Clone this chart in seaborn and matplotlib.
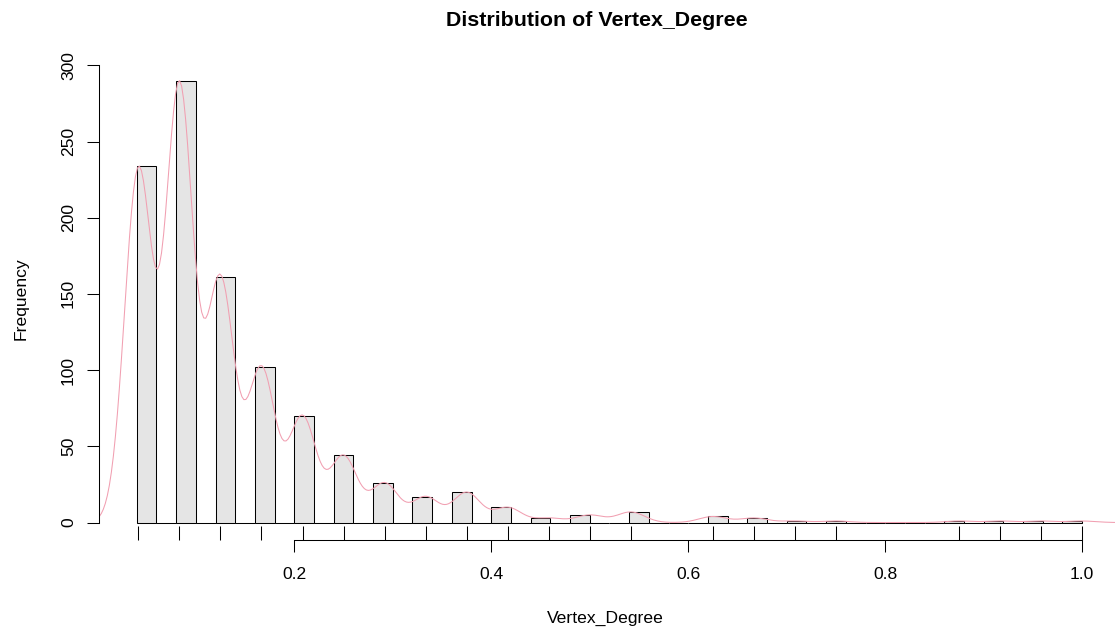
import numpy as np
import pandas as pd
import matplotlib
matplotlib.use("Agg")
import matplotlib.pyplot as plt
import seaborn as sns

# Vertex degrees (as steps of the maximum degree) and how many vertices have each one
degree_steps = [1, 2, 3, 4, 5, 6, 7, 8, 9, 10, 11, 12, 13, 15, 16, 17, 18, 21, 22, 23, 24]
vertex_counts = [234, 290, 161, 102, 70, 44, 26, 17, 20, 10, 3, 5, 7, 4, 3, 1, 1, 1, 1, 1, 1]
max_degree = 24

# Axis ticks
x_tick_values = [0.2, 0.4, 0.6, 0.8, 1.0]
x_tick_labels = ["0.2", "0.4", "0.6", "0.8", "1.0"]
y_tick_values = [0, 50, 100, 150, 200, 250, 300]

# Histogram breaks (width 0.02) and kernel bandwidth of the density overlay
break_lo, break_hi, break_width = 0.04, 1.0, 0.02
bandwidth = 0.0139

vertex_degree = np.array(degree_steps) / max_degree
counts = np.array(vertex_counts)
df = pd.DataFrame({"Vertex_Degree": vertex_degree, "count": counts})

sns.set_style("ticks")
plt.rcParams["font.family"] = ["Liberation Sans", "DejaVu Sans"]

W, H = 1115, 634
fig = plt.figure(figsize=(W / 100, H / 100), dpi=100)
px_l, px_r, px_t, px_b = 98.9, 1120.0, 62.9, 540.2
ax = fig.add_axes([px_l / W, 1 - px_b / H, (px_r - px_l) / W, (px_b - px_t) / H])

# right-closed bins, as in a classic frequency histogram
n_bins = int(round((break_hi - break_lo) / break_width))
eps = 1e-9
sns.histplot(data=df, x="Vertex_Degree", weights="count", bins=n_bins,
             binrange=(break_lo + eps, break_hi + eps), stat="count",
             color="#E5E5E5", edgecolor="black", linewidth=0.75, alpha=1.0, ax=ax)

# Gaussian kernel density, rescaled so its peak matches the tallest bar
grid = np.linspace(vertex_degree.min() - 3 * bandwidth, vertex_degree.max() + 3 * bandwidth, 512)
dens = (counts[None, :] * np.exp(-0.5 * ((grid[:, None] - vertex_degree[None, :]) / bandwidth) ** 2)).sum(axis=1)
dens = dens * counts.max() / dens.max()
sns.lineplot(x=grid, y=dens, color="#F19FB1", linewidth=0.75, ax=ax, sort=False)

# rug of the observed degree values along the bottom
sns.rugplot(x=vertex_degree, height=0.03, color="black", linewidth=0.75, ax=ax, clip_on=False)

ymax = counts.max()
xpad = 0.04 * (break_hi - break_lo)
ax.set_xlim(break_lo - xpad, break_hi + xpad)
ax.set_ylim(-0.04 * ymax, ymax * 1.04)

for s in ["top", "right"]:
    ax.spines[s].set_visible(False)
ax.spines["bottom"].set_bounds(x_tick_values[0], x_tick_values[-1])
ax.spines["left"].set_bounds(y_tick_values[0], y_tick_values[-1])
for s in ["bottom", "left"]:
    ax.spines[s].set_linewidth(0.75)
    ax.spines[s].set_color("black")

ax.set_xticks(x_tick_values)
ax.set_xticklabels(x_tick_labels)
ax.set_yticks(y_tick_values)
ax.set_yticklabels([str(v) for v in y_tick_values], rotation=90, va="center")
ax.tick_params(axis="both", direction="out", length=8.4, width=0.75, color="black",
               labelsize=12.6, labelcolor="black")
ax.tick_params(axis="x", pad=11)
ax.tick_params(axis="y", pad=8)
ax.set_xlabel("")
ax.set_ylabel("")
ax.grid(False)

fig.text(596.7 / W, 1 - 26 / H, "Distribution of Vertex_Degree", ha="center", va="baseline",
         fontsize=15.4, fontweight="bold", color="black")
fig.text(605 / W, 1 - 623.3 / H, "Vertex_Degree", ha="center", va="baseline",
         fontsize=12.6, color="black")
fig.text(25.5 / W, 1 - 298.8 / H, "Frequency", ha="center", va="baseline", rotation=90,
         rotation_mode="anchor", fontsize=12.6, color="black")

fig.savefig("out.png", dpi=100, facecolor="white")
